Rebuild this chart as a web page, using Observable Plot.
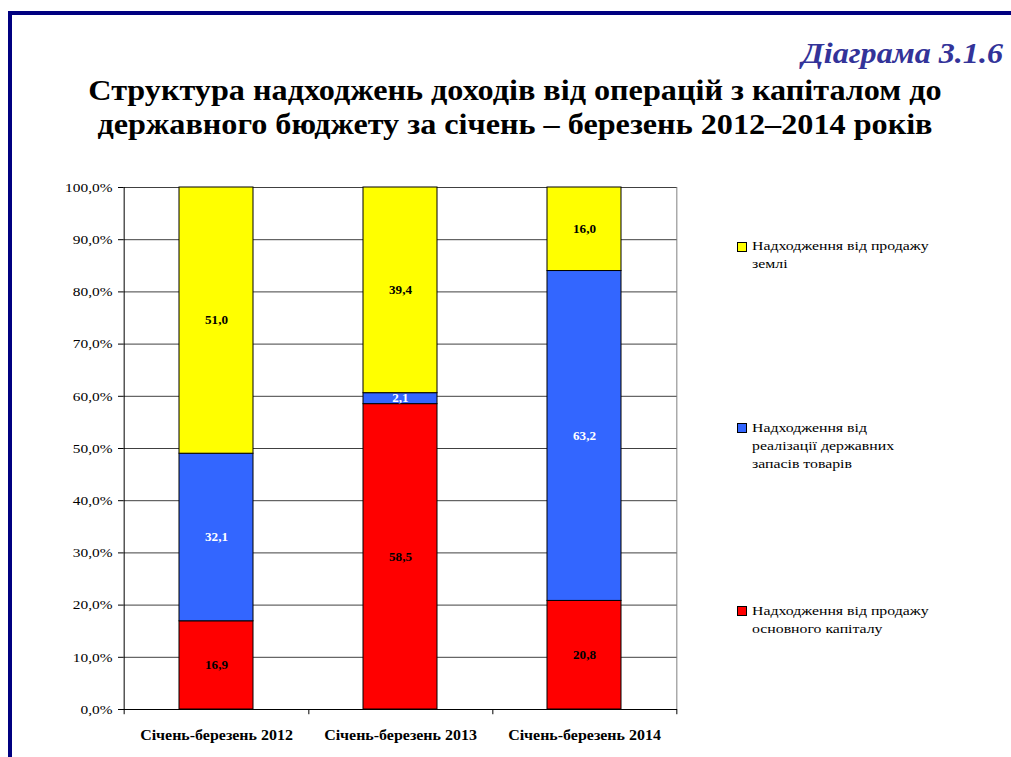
<!DOCTYPE html>
<html>
<head>
<meta charset="utf-8">
<script src="https://cdn.jsdelivr.net/npm/d3@7"></script>
<script src="https://cdn.jsdelivr.net/npm/@observablehq/plot@0.6"></script>
<style>
  html, body { margin: 0; padding: 0; background: #fff; }
  #wrap { position: relative; width: 1011px; height: 757px; overflow: hidden; font-family: "Liberation Serif", "Times New Roman", serif; }
  #border { position: absolute; left: 8px; top: 11px; right: -10px; bottom: -10px; border-left: 4px solid #000080; border-top: 4px solid #000080; }
  #label { position: absolute; right: 8px; top: 35.5px; font-size: 30px; line-height: 34px; font-weight: bold; font-style: italic; color: #333399; transform: scaleX(1.07); transform-origin: right center; white-space: nowrap; }
  #title { position: absolute; left: 15px; width: 1000px; top: 72.5px; text-align: center; font-size: 29px; font-weight: bold; line-height: 34px; color: #000; transform: scaleX(1.11); transform-origin: 500px 0; white-space: nowrap; }
  #chart { position: absolute; left: 0; top: 170px; }
  .leg { position: absolute; left: 752px; font-size: 13.5px; line-height: 18px; color: #000; transform: scaleX(1.17); transform-origin: left center; white-space: nowrap; }
  .sw { position: absolute; left: 737px; width: 8px; height: 8px; border: 1px solid #000; }
</style>
</head>
<body>
<div id="wrap">
  <div id="border"></div>
  <div id="label">Діаграма 3.1.6</div>
  <div id="title">Структура надходжень доходів від операцій з капіталом до<br>державного бюджету за січень – березень 2012–2014 років</div>
  <div id="chart"></div>
  <div id="legend"></div>
</div>
<script>
const categories = ["Січень-березень 2012", "Січень-березень 2013", "Січень-березень 2014"];
const seriesNames = [
  "Надходження від продажу основного капіталу",
  "Надходження від реалізації державних запасів товарів",
  "Надходження від продажу землі"
];
const legendLines = [
  ["Надходження від продажу", "основного капіталу"],
  ["Надходження від", "реалізації державних", "запасів товарів"],
  ["Надходження від продажу", "землі"]
];
const capitalSales = [16.9, 58.5, 20.8];
const reservesSales = [32.1, 2.1, 63.2];
const landSales = [51.0, 39.4, 16.0];
const seriesColors = ["#FF0000", "#3366FF", "#FFFF00"];
const yTicks = [0, 10, 20, 30, 40, 50, 60, 70, 80, 90, 100];

const seriesValues = [capitalSales, reservesSales, landSales];
const table = [];
seriesNames.forEach((s, si) => categories.forEach((c, ci) => table.push({cat: c, series: s, value: seriesValues[si][ci]})));

const W = 1011, H = 587, ML = 123, MR = 334, MT = 17, MB = 48;
const bw = (W - ML - MR) / categories.length;
const fmt1 = v => v.toFixed(1).replace(".", ",");

const chart = Plot.plot({
  width: W, height: H,
  marginLeft: ML, marginRight: MR, marginTop: MT, marginBottom: MB,
  x: {domain: categories, padding: 0, label: null},
  y: {domain: [0, 100], label: null},
  color: {domain: seriesNames, range: seriesColors},
  style: {fontFamily: "Liberation Serif", fontSize: "13px", color: "#000", background: "transparent", overflow: "visible"},
  marks: [
    Plot.gridY(yTicks, {stroke: "#404040", strokeOpacity: 1}),
    Plot.ruleX([categories[categories.length - 1]], {dx: bw / 2, y1: 0, y2: 100, stroke: "#808080"}),
    Plot.barY(table, {x: "cat", y: "value", fill: "series", stroke: "#000", strokeWidth: 1, insetLeft: 55, insetRight: 55, order: seriesNames}),
    Plot.text(table, Plot.stackY({x: "cat", y: "value", z: "series", order: seriesNames,
      text: d => fmt1(d.value),
      fill: d => d.series === seriesNames[1] ? "#fff" : "#000",
      fontWeight: "bold", fontSize: 11.5})),
    Plot.ruleY([0], {stroke: "#000"}),
    Plot.ruleX([categories[0]], {dx: -bw / 2, y1: -1, y2: 100, stroke: "#000"}),
    Plot.ruleX(categories, {dx: bw / 2, y1: -1, y2: 0, stroke: "#000"}),
    Plot.axisY(yTicks, {tickSize: 5, tickPadding: 6, tickFormat: d => fmt1(d) + "%", fontSize: 13.5, stroke: "#000", label: null}),
    Plot.axisX({tickSize: 0, tickPadding: 21, fontWeight: "bold", fontSize: 14, label: null})
  ]
});
document.getElementById("chart").appendChild(chart);

// widen the text glyphs horizontally around their anchor point (the reference's type is stretched)
const SVGNS = "http://www.w3.org/2000/svg";
[...chart.querySelectorAll("text")].forEach(t => {
  const r = t.getBoundingClientRect();
  const anchor = getComputedStyle(t).textAnchor;
  const sx = anchor === "end" ? r.right : anchor === "middle" ? (r.left + r.right) / 2 : r.left;
  const p = chart.createSVGPoint();
  p.x = sx; p.y = r.top;
  const q = p.matrixTransform(t.parentNode.getScreenCTM().inverse());
  const g = document.createElementNS(SVGNS, "g");
  t.parentNode.insertBefore(g, t);
  g.appendChild(t);
  g.setAttribute("transform", `translate(${q.x},0) scale(1.14,1) translate(${-q.x},0)`);
});

const legendTops = [601.6, 418.6, 237.3];
const legend = document.getElementById("legend");
seriesNames.forEach((s, i) => {
  const d = document.createElement("div");
  d.className = "leg";
  d.style.top = legendTops[i] + "px";
  d.innerHTML = legendLines[i].join("<br>");
  legend.appendChild(d);
  const sw = document.createElement("div");
  sw.className = "sw";
  sw.style.top = (legendTops[i] + 4.7) + "px";
  sw.style.background = seriesColors[i];
  legend.appendChild(sw);
});
</script>
</body>
</html>
